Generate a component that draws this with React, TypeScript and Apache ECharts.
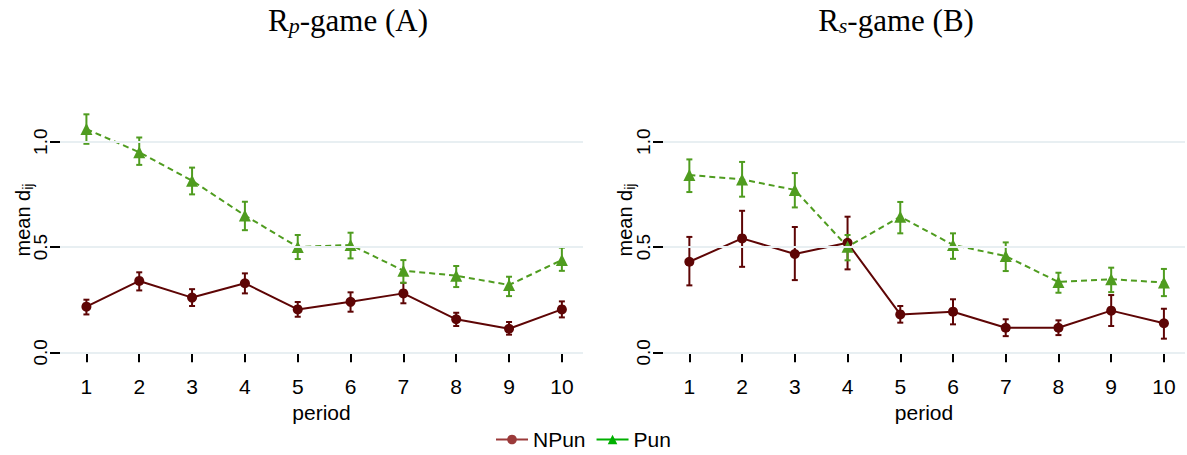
import React, { useEffect, useRef } from "react";
import * as echarts from "echarts";

const periods = [1, 2, 3, 4, 5, 6, 7, 8, 9, 10];
const yTicks = [0, 0.5, 1.0];

// R_p-game (A)
const aNPun = [0.217, 0.339, 0.26, 0.328, 0.204, 0.24, 0.28, 0.157, 0.112, 0.204];
const aNPunLo = [0.18, 0.294, 0.22, 0.28, 0.169, 0.193, 0.233, 0.125, 0.084, 0.166];
const aNPunHi = [0.25, 0.38, 0.30, 0.375, 0.239, 0.285, 0.33, 0.188, 0.144, 0.242];
const aPun = [1.06, 0.95, 0.815, 0.65, 0.50, 0.51, 0.388, 0.364, 0.32, 0.438];
const aPunLo = [0.99, 0.89, 0.75, 0.58, 0.443, 0.446, 0.33, 0.31, 0.267, 0.387];
const aPunHi = [1.13, 1.02, 0.877, 0.715, 0.557, 0.568, 0.438, 0.41, 0.359, 0.497];

// R_s-game (B)
const bNPun = [0.43, 0.541, 0.467, 0.52, 0.18, 0.193, 0.117, 0.117, 0.198, 0.138];
const bNPunLo = [0.318, 0.406, 0.343, 0.394, 0.141, 0.133, 0.077, 0.082, 0.125, 0.065];
const bNPunHi = [0.548, 0.672, 0.595, 0.644, 0.22, 0.252, 0.157, 0.152, 0.272, 0.207];
const bPun = [0.842, 0.821, 0.771, 0.501, 0.644, 0.51, 0.457, 0.334, 0.347, 0.332];
const bPunLo = [0.761, 0.739, 0.688, 0.437, 0.565, 0.444, 0.386, 0.283, 0.286, 0.267];
const bPunHi = [0.916, 0.904, 0.851, 0.557, 0.714, 0.565, 0.522, 0.378, 0.402, 0.396];

const MAROON = "#5e0505";
const GREEN = "#4f9c1f";
const SANS = "'Liberation Sans', Arial, sans-serif";
const SERIF = "'Liberation Serif', 'Times New Roman', serif";

function errSeries(name: string, idx: number, lo: number[], hi: number[], color: string) {
  return {
    type: "custom",
    name,
    xAxisIndex: idx,
    yAxisIndex: idx,
    z: 3,
    silent: true,
    data: periods.map((p, i) => [p, lo[i], hi[i]]),
    encode: { x: 0, y: [1, 2] },
    renderItem: (_params: any, api: any) => {
      const x = api.value(0);
      const top = api.coord([x, api.value(2)]);
      const bot = api.coord([x, api.value(1)]);
      const w = 3;
      const style = { stroke: color, lineWidth: 2 };
      return {
        type: "group",
        children: [
          { type: "line", shape: { x1: top[0], y1: top[1], x2: bot[0], y2: bot[1] }, style },
          { type: "line", shape: { x1: top[0] - w, y1: top[1], x2: top[0] + w, y2: top[1] }, style },
          { type: "line", shape: { x1: bot[0] - w, y1: bot[1], x2: bot[0] + w, y2: bot[1] }, style },
        ],
      };
    },
  };
}

function lineSeries(name: string, idx: number, vals: number[], color: string, dashed: boolean) {
  return {
    type: "line",
    name,
    xAxisIndex: idx,
    yAxisIndex: idx,
    z: 4,
    data: periods.map((p, i) => [p, vals[i]]),
    symbol: dashed ? "triangle" : "circle",
    symbolSize: dashed ? 12 : 10,
    itemStyle: { color },
    lineStyle: { color, width: 2, type: dashed ? [6, 4] : "solid" },
  };
}

function gridSeries(idx: number) {
  return {
    type: "line",
    name: "gridlines" + idx,
    xAxisIndex: idx,
    yAxisIndex: idx,
    data: [],
    z: 1,
    silent: true,
    markLine: {
      silent: true,
      symbol: ["none", "none"],
      label: { show: false },
      lineStyle: { color: "#e8eff2", width: 2, type: "solid" },
      data: yTicks.map((v) => ({ yAxis: v })),
    },
  };
}

function xAxis(idx: number) {
  return {
    gridIndex: idx,
    type: "value",
    min: 0.5,
    max: 10.4,
    axisLine: { show: false },
    splitLine: { show: false },
    axisTick: { show: true, length: 10, lineStyle: { color: "#000", width: 2 }, customValues: periods },
    axisLabel: { customValues: periods, fontSize: 21, color: "#000", margin: 11, fontFamily: SANS },
    name: "period",
    nameLocation: "middle",
    nameGap: 29,
    nameTextStyle: { fontSize: 21, color: "#000", fontFamily: SANS },
  };
}

function yAxis(idx: number) {
  return {
    gridIndex: idx,
    type: "value",
    min: -0.06,
    max: 1.16,
    axisLine: { show: false },
    splitLine: { show: false },
    axisTick: { show: true, length: 10, lineStyle: { color: "#000", width: 2 }, customValues: yTicks },
    axisLabel: {
      customValues: yTicks,
      rotate: 90,
      fontSize: 19,
      color: "#000",
      margin: 10,
      fontFamily: SANS,
      formatter: (v: number) => v.toFixed(1),
    },
  };
}

function titleText(cx: number, main: string, sub: string, rest: string) {
  return {
    type: "text",
    x: cx,
    y: 5,
    style: {
      text: `{m|${main}}{s|${sub}}{m|${rest}}`,
      align: "center",
      verticalAlign: "top",
      rich: {
        m: { fontFamily: SERIF, fontSize: 31, lineHeight: 31, verticalAlign: "top", fill: "#000" },
        s: { fontFamily: SERIF, fontSize: 22, fontStyle: "italic", lineHeight: 16, verticalAlign: "bottom", fill: "#000" },
      },
    },
  };
}

function yName(x: number, y: number) {
  return {
    type: "text",
    x,
    y,
    rotation: Math.PI / 2,
    style: {
      text: "{m|mean d}{s|ij}",
      align: "center",
      verticalAlign: "middle",
      rich: {
        m: { fontFamily: SANS, fontSize: 20, lineHeight: 22, verticalAlign: "top", fill: "#000" },
        s: { fontFamily: SANS, fontSize: 14, lineHeight: 12, verticalAlign: "bottom", fill: "#000" },
      },
    },
  };
}

export default function App() {
  const ref = useRef<HTMLDivElement>(null);
  useEffect(() => {
    if (!ref.current) return;
    const chart = echarts.init(ref.current, undefined, { renderer: "svg" });
    chart.setOption({
      animation: false,
      backgroundColor: "#fff",
      grid: [
        { left: 60, right: 604, top: 108, bottom: 90 },
        { left: 663, right: 2, top: 108, bottom: 90 },
      ],
      xAxis: [xAxis(0), xAxis(1)],
      yAxis: [yAxis(0), yAxis(1)],
      legend: {
        left: 490,
        top: 424,
        itemWidth: 32,
        itemHeight: 12,
        itemGap: 10,
        textStyle: { fontSize: 21, color: "#000", fontFamily: SANS },
        data: [
          { name: "NPun", itemStyle: { color: "#9b3a3a" }, lineStyle: { color: "#9b3a3a", width: 2 } },
          { name: "Pun", itemStyle: { color: "#00b000" }, lineStyle: { color: "#00b000", width: 2, type: "solid" } },
        ],
      },
      graphic: [
        titleText(348, "R", "p", "-game (A)"),
        titleText(896, "R", "s", "-game (B)"),
        yName(24, 220),
        yName(626, 220),
      ],
      series: [
        gridSeries(0),
        gridSeries(1),
        errSeries("eA1", 0, aNPunLo, aNPunHi, MAROON),
        errSeries("eA2", 0, aPunLo, aPunHi, GREEN),
        errSeries("eB1", 1, bNPunLo, bNPunHi, MAROON),
        errSeries("eB2", 1, bPunLo, bPunHi, GREEN),
        lineSeries("NPun", 0, aNPun, MAROON, false),
        lineSeries("Pun", 0, aPun, GREEN, true),
        lineSeries("NPun", 1, bNPun, MAROON, false),
        lineSeries("Pun", 1, bPun, GREEN, true),
      ],
    });
    return () => chart.dispose();
  }, []);
  return <div ref={ref} style={{ position: "absolute", left: 0, top: 0, width: 1187, height: 455 }} />;
}
